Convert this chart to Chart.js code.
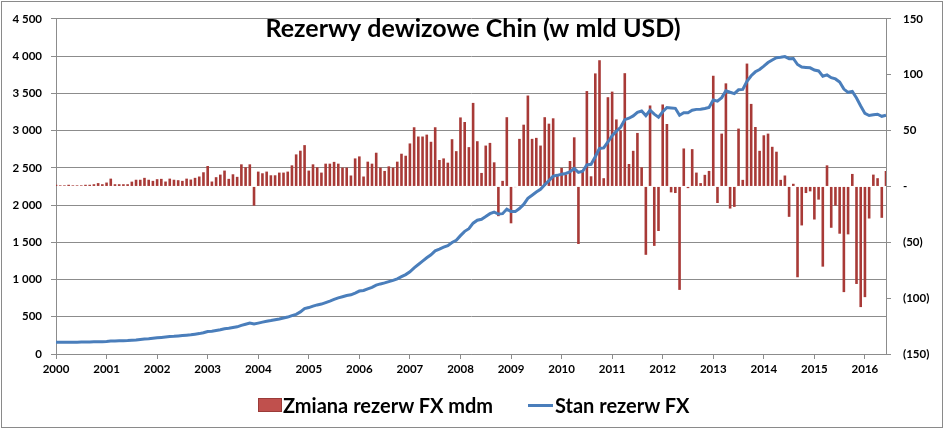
<!DOCTYPE html>
<html><head><meta charset="utf-8">
<script src="https://cdn.jsdelivr.net/npm/chart.js@4.4.1/dist/chart.umd.min.js"></script>
<style>
html,body{margin:0;padding:0;background:#fff;}
#wrap{position:relative;width:945px;height:430px;overflow:hidden;}
canvas{position:absolute;left:0;top:0;}
.lg{position:absolute;top:393px;font:bold 20px Lato, sans-serif;color:#000;display:flex;align-items:center;white-space:nowrap;height:24px;}
.box{display:inline-block;width:24px;height:14px;background:#C0504D;border:1px solid #9b3b38;box-sizing:border-box;margin-right:1px;}
.ln{display:inline-block;width:25px;height:3px;background:#4A7EBB;margin-right:2px;}
</style></head><body>
<div id="wrap"><canvas id="c" width="945" height="430"></canvas>
<div class="lg" style="left:258px"><span class="box"></span>Zmiana rezerw FX mdm</div>
<div class="lg" style="left:528px"><span class="ln"></span>Stan rezerw FX</div>
</div>
<script>
const years = ['2000','2001','2002','2003','2004','2005','2006','2007','2008','2009','2010','2011','2012','2013','2014','2015','2016'];
const chartTitle = 'Rezerwy dewizowe Chin (w mld USD)';
// monthly change of FX reserves (bn USD), Jan 2000 - Jun 2016
const changes = [
  1.5,1,1,1.5,1,1,1,1.5,1.5,2,3,2,
  3.5,7,2,2,2,2,4.3,6,6,7.7,6,5,
  6.5,6.8,4.4,7,6,5.6,5,7,6.2,7.7,8.9,12.7,
  18.3,4.4,8.3,10.6,14.2,6.8,10.9,8.6,19.8,17.2,19.8,-17.2,
  13.3,11.8,13.3,10,10,12.4,12.4,13.3,18.9,28.7,32,37,
  14.2,19.8,17.2,12.4,20.4,20.4,22,20.4,16.9,16.9,9.8,25.1,
  26.9,8.9,22.2,20.4,30.2,16.9,13.9,18,16.9,22.2,29.3,27.5,
  38.5,53,44.7,44.7,46.4,40,53,23.7,25.1,21.3,42.3,31.6,
  61.8,57.7,35.2,74.8,40.5,12.1,36.6,39,21.6,-26.6,5,62,
  -33,-0.6,42.6,55.3,81.4,42.6,43.5,36.6,62,56.2,61,9.5,
  16.6,10.4,22.8,44,-51.5,13.3,85.4,9.1,101.2,113,7.4,79.9,
  84.9,60,50.3,101.4,20.1,31.9,47.9,17.2,-61.2,72.5,-53.2,-39.9,
  73.4,55.9,-5.3,-5.9,-92.6,34,-1.5,33.4,12.4,3,10.4,13.9,
  99.1,-14.8,47.3,92.3,-19.8,-18.3,51.8,5.9,110,73.9,53.2,31.9,
  45.8,47.3,35.5,31.1,5.9,9.8,-27.2,2.4,-81.3,-34.9,-5.9,-4.4,
  -29.6,-11.8,-71.8,18.9,-37,-17.2,-42.3,-94.6,-42.9,11.2,-87.3,-108,
  -99.1,-28.7,10.6,7.4,-28.1,13.9
];
// FX reserves level (bn USD)
const reserves = [
  157.7,157.0,157.0,156.8,157.5,158.6,159.5,160.6,162.8,163.9,164.5,165.6,
  168.3,173.0,175.8,176.8,178.0,180.1,183.6,188.0,195.9,201.8,205.0,212.2,
  218.0,222.6,228.1,234.0,237.0,242.8,248.0,252.8,258.6,266.0,274.0,286.4,
  303.0,306.0,316.1,326.0,340.0,346.5,356.0,365.0,383.8,400.0,416.0,403.3,
  415.0,428.0,439.8,449.0,460.0,470.6,483.0,496.0,514.5,533.0,565.0,609.9,
  623.6,642.6,659.1,670.4,691.0,711.0,732.7,753.3,769.0,785.3,794.3,818.9,
  845.1,853.7,875.1,895.0,925.0,941.1,954.5,972.0,987.9,1009.6,1038.0,1066.3,
  1104.7,1157.4,1202.0,1246.7,1292.7,1332.6,1385.2,1408.6,1434.0,1454.9,1497.2,1528.2,
  1589.8,1647.1,1682.2,1756.7,1797.0,1808.8,1845.2,1884.2,1905.6,1879.7,1884.7,1946.0,
  1913.5,1912.1,1953.7,2008.9,2089.5,2131.6,2174.5,2210.8,2272.6,2328.3,2388.6,2399.2,
  2415.2,2424.6,2447.1,2490.4,2439.5,2454.3,2538.6,2547.8,2648.3,2760.9,2767.8,2847.3,
  2931.7,2991.4,3044.7,3146.6,3166.4,3197.5,3245.3,3262.5,3201.7,3273.8,3220.4,3181.1,
  3253.6,3309.7,3305.0,3299.4,3206.1,3240.0,3239.8,3272.9,3285.1,3287.4,3297.7,3311.6,
  3410.0,3395.4,3442.6,3534.5,3514.8,3496.7,3547.8,3553.0,3662.7,3736.6,3789.5,3821.3,
  3866.4,3913.7,3948.1,3978.9,3984.2,3993.2,3966.3,3968.8,3887.7,3852.9,3847.4,3843.0,
  3813.4,3801.5,3730.0,3748.1,3711.1,3693.8,3651.3,3557.4,3514.1,3525.5,3438.4,3330.4,
  3230.9,3202.3,3212.6,3219.7,3191.7,3205.2
];
const categories = [];
years.forEach(y => { for (let m = 1; m <= 12; m++) categories.push(y + '-' + String(m).padStart(2,'0')); });
categories.length = changes.length;

const tickFont = {family:'Lato', weight:'bold', size:11.5};
const gridCol = '#8c8c8c';

const titlePlugin = {
  id:'overlayTitle',
  afterDraw(chart){
    const c = chart.ctx;
    c.save();
    c.font = 'bold 25px Lato';
    c.fillStyle = '#000';
    c.textAlign = 'center';
    c.textBaseline = 'alphabetic';
    c.fillText(chartTitle, 473, 37);
    c.restore();
  }
};
const borderPlugin = {
  id:'outerBorder',
  beforeDraw(chart){
    const c = chart.ctx;
    c.save();
    c.fillStyle = '#fff';
    c.fillRect(0,0,chart.width,chart.height);
    c.strokeStyle = '#8a8a8a';
    c.lineWidth = 1;
    c.strokeRect(1.5,1.5,941,426);
    c.restore();
  }
};

new Chart(document.getElementById('c'), {
  type:'bar',
  data:{
    labels: categories,
    datasets:[
      {type:'line', label:'Stan rezerw FX', data:reserves, yAxisID:'y', borderColor:'#4A7EBB', borderWidth:3, pointRadius:0, tension:0, order:0},
      {type:'bar', label:'Zmiana rezerw FX mdm', data:changes, yAxisID:'y1', backgroundColor:'#A83A37', barPercentage:0.62, categoryPercentage:1, order:1}
    ]
  },
  options:{
    responsive:false, animation:false, devicePixelRatio:1,
    layout:{padding:{top:16,bottom:46,left:0,right:0}},
    plugins:{legend:{display:false}, tooltip:{enabled:false}, title:{display:false}},
    scales:{
      x:{type:'category', offset:false,
         grid:{offset:false, drawOnChartArea:false, drawTicks:true, tickLength:5, color:gridCol},
         border:{color:gridCol},
         ticks:{autoSkip:false, maxRotation:0, minRotation:0, padding:3, font:tickFont, color:'#000',
           callback:(v,i)=> (i%12===0 ? years[i/12] : null)},
         afterFit:s=>{s.height=30;}},
      y:{position:'left', min:0, max:4500,
         grid:{color:gridCol, tickLength:5},
         border:{color:gridCol},
         ticks:{stepSize:500, padding:9, font:tickFont, color:'#000',
           callback:v=> v>=1000 ? Math.floor(v/1000)+' '+String(v%1000).padStart(3,'0') : String(v)},
         afterFit:s=>{s.width=56;}},
      y1:{position:'right', min:-150, max:150,
         grid:{drawOnChartArea:false, tickLength:5, color:gridCol},
         border:{color:gridCol},
         ticks:{stepSize:50, padding:12, font:tickFont, color:'#000',
           callback:v=> v<0 ? '('+(-v)+')' : (v===0 ? '-' : String(v))},
         afterFit:s=>{s.width=59;}}
    }
  },
  plugins:[borderPlugin, titlePlugin]
});
</script>
</body></html>
